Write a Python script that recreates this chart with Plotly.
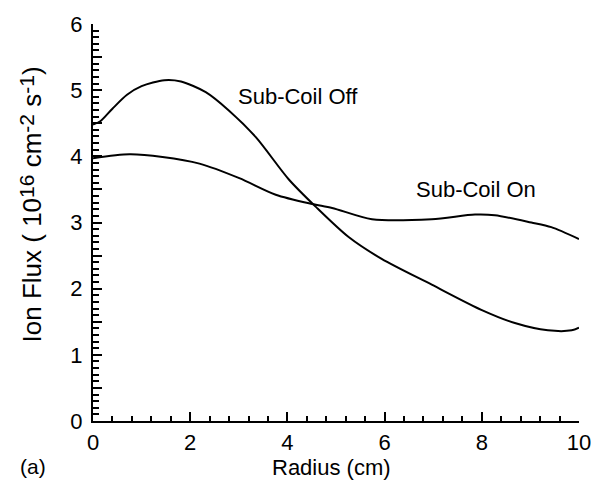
import plotly.graph_objects as go

# Data
radius_off = [0.0, 0.15, 0.4, 0.7, 1.0, 1.47, 1.81, 2.32, 2.80, 3.35, 4.03, 4.58, 5.26, 5.94, 6.97, 7.99, 8.68, 9.36, 9.85, 10.0]
flux_off = [4.48, 4.53, 4.72, 4.93, 5.06, 5.15, 5.13, 4.97, 4.69, 4.29, 3.65, 3.24, 2.78, 2.45, 2.06, 1.68, 1.48, 1.37, 1.37, 1.41]

radius_on = [0.0, 0.75, 1.43, 2.19, 3.01, 3.76, 4.51, 4.92, 5.74, 6.97, 7.86, 8.27, 9.02, 9.43, 10.0]
flux_on = [3.97, 4.03, 3.99, 3.89, 3.67, 3.42, 3.28, 3.22, 3.05, 3.05, 3.12, 3.11, 3.00, 2.93, 2.75]

label_off = "Sub-Coil Off"
label_on = "Sub-Coil On"
y_tickvals = [i * 0.5 for i in range(13)]
y_ticktext = [str(int(v)) if v == int(v) else "" for v in y_tickvals]
x_tickvals = [0, 2, 4, 6, 8, 10]

FONT = "Liberation Sans, Arial, sans-serif"

fig = go.Figure()
fig.add_trace(go.Scatter(x=radius_off, y=flux_off, mode="lines",
                         line=dict(color="black", width=2, shape="spline", smoothing=0.8),
                         showlegend=False))
fig.add_trace(go.Scatter(x=radius_on, y=flux_on, mode="lines",
                         line=dict(color="black", width=2, shape="spline", smoothing=0.8),
                         showlegend=False))

fig.update_layout(
    width=603, height=481,
    margin=dict(l=93, r=22, t=19, b=60),
    paper_bgcolor="white", plot_bgcolor="white",
    font=dict(family=FONT, color="black", size=22),
    xaxis=dict(range=[0, 10], tickmode="array", tickvals=x_tickvals,
               ticks="inside", ticklen=9, tickwidth=2, tickcolor="black",
               showline=True, linecolor="black", linewidth=2,
               showgrid=False, zeroline=False,
               minor=dict(dtick=0.4, tick0=0, ticks="inside", ticklen=5, tickwidth=1.5, tickcolor="black"),
               tickfont=dict(size=22, family=FONT), ticklabelstandoff=1),
    yaxis=dict(range=[0, 6], tickmode="array", tickvals=y_tickvals, ticktext=y_ticktext,
               ticks="inside", ticklen=9, tickwidth=2, tickcolor="black",
               showline=True, linecolor="black", linewidth=2,
               showgrid=False, zeroline=False,
               minor=dict(dtick=0.1, tick0=0, ticks="inside", ticklen=6, tickwidth=1.5, tickcolor="black"),
               tickfont=dict(size=22, family=FONT), ticklabelstandoff=4),
)

fig.add_annotation(x=4.21, y=4.9, text=label_off, showarrow=False,
                   font=dict(size=22, family=FONT))
fig.add_annotation(x=7.88, y=3.5, text=label_on, showarrow=False,
                   font=dict(size=22, family=FONT))
fig.add_annotation(x=0.49, y=-0.118, xref="paper", yref="paper", text="Radius (cm)",
                   showarrow=False, yanchor="middle", font=dict(size=22, family=FONT))
fig.add_annotation(x=-0.155, y=-0.115, xref="paper", yref="paper", text="(a)",
                   showarrow=False, yanchor="middle", font=dict(size=21, family=FONT))
sup = "<span style=\"font-size:21px;baseline-shift:7px\">{}</span>"
fig.add_annotation(x=-0.165, y=0.545, xref="paper", yref="paper",
                   text=("Ion Flux ( 10" + sup.format("16") + " cm" + sup.format("-2")
                         + " s" + sup.format("-1") + ")"),
                   textangle=-90, showarrow=False, font=dict(size=26, family=FONT))

fig.write_html("out.html")
